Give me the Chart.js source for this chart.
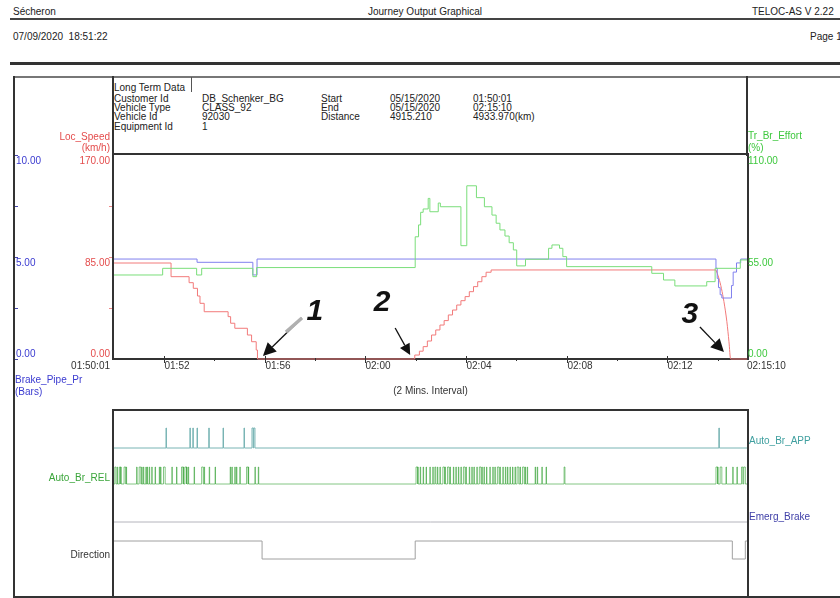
<!DOCTYPE html>
<html>
<head>
<meta charset="utf-8">
<script src="https://cdn.jsdelivr.net/npm/chart.js@4"></script>
<style>
  body { margin: 0; background: #fff; }
  #page { position: relative; width: 840px; height: 598px; overflow: hidden;
          font-family: "Liberation Sans", Arial, sans-serif; font-size: 10px; color: #222; }
  .t { position: absolute; white-space: nowrap; line-height: 12px; }
  .info { font-size: 10px; }
  .ln { position: absolute; }
  canvas { position: absolute; left: 0; top: 0; }
</style>
</head>
<body>
<div id="page">
  <div class="t" style="left:13px;top:6px">Sécheron</div>
  <div class="t" style="left:368px;top:6px">Journey Output Graphical</div>
  <div class="t" style="left:752px;top:6px">TELOC-AS V 2.22</div>
  <div class="ln" style="left:10px;top:18px;width:830px;height:2px;background:#444"></div>
  <div class="t" style="left:13px;top:31px">07/09/2020&nbsp;&nbsp;18:51:22</div>
  <div class="t" style="left:810px;top:31px">Page 1</div>
  <div class="ln" style="left:10px;top:62px;width:830px;height:3px;background:#333"></div>

  <!-- outer frame -->
  <div class="ln" style="left:14px;top:76px;width:826px;height:2px;background:#777"></div>
  <div class="ln" style="left:13px;top:76px;width:2px;height:522px;background:#333"></div>
  <div class="ln" style="left:13px;top:596px;width:827px;height:2px;background:#333"></div>
  <div class="ln" style="left:112px;top:76px;width:2px;height:80px;background:#333"></div>
  <div class="ln" style="left:746px;top:76px;width:2px;height:80px;background:#333"></div>
  <div class="ln" style="left:191px;top:77px;width:1px;height:15px;background:#555"></div>

  <!-- info block -->
  <div class="t info" style="left:114px;top:82px">Long Term Data</div>
  <div class="t info" style="left:114px;top:93px">Customer Id</div>
  <div class="t info" style="left:114px;top:102px">Vehicle Type</div>
  <div class="t info" style="left:114px;top:111px">Vehicle Id</div>
  <div class="t info" style="left:114px;top:121px">Equipment Id</div>
  <div class="t info" style="left:202px;top:93px">DB_Schenker_BG</div>
  <div class="t info" style="left:202px;top:102px">CLASS_92</div>
  <div class="t info" style="left:202px;top:111px">92030</div>
  <div class="t info" style="left:202px;top:121px">1</div>
  <div class="t info" style="left:321px;top:93px">Start</div>
  <div class="t info" style="left:321px;top:102px">End</div>
  <div class="t info" style="left:321px;top:111px">Distance</div>
  <div class="t info" style="left:390px;top:93px">05/15/2020</div>
  <div class="t info" style="left:390px;top:102px">05/15/2020</div>
  <div class="t info" style="left:390px;top:111px">4915.210</div>
  <div class="t info" style="left:473px;top:93px">01:50:01</div>
  <div class="t info" style="left:473px;top:102px">02:15:10</div>
  <div class="t info" style="left:473px;top:111px">4933.970(km)</div>

  <canvas id="main" width="840" height="598"></canvas>
  <canvas id="digital" width="840" height="598"></canvas>
</div>
<script>
// time in seconds since 01:50:01
const tEnd = 1509;

// Loc_Speed (km/h), value changes at each time
const speedTime = [0, 136, 179, 189, 199, 205, 215, 272, 278, 288, 318, 328, 339, 342,
  717, 728, 737, 747, 757, 767, 777, 787, 797, 807, 817, 827, 837, 847, 857, 867, 877, 887, 899, 1435];
const speedKmh = [80, 68.6, 63.6, 58.9, 52.5, 46.4, 39.4, 35.3, 29.8, 25.6, 20, 14.4, 7.5, 0,
  3.3, 6.5, 10.3, 15, 20, 24.2, 28.3, 32, 36.7, 40.8, 45, 48.6, 52, 56.1, 60.3, 64.4, 68.6, 72.3, 74.2, 74.2];
// final braking to standstill
const brakeTime = [1435, 1442, 1448, 1454, 1461, 1466, 1470, tEnd];
const brakeKmh = [74.2, 67.3, 58.9, 47.8, 31.1, 14.4, 0, 0];

// Tr_Br_Effort (%)
const effortTime = [0, 116, 197, 209, 331, 340, 718, 726, 731, 737, 749, 753, 773, 778, 827, 841, 864,
  883, 901, 911, 920, 932, 942, 952, 960, 981, 1036, 1044, 1062, 1070, 1079, 1282, 1310, 1337, 1413, 1433, 1493, tEnd];
const effortPct = [45.3, 48.9, 45.3, 48.9, 44.4, 49.3, 65.9, 72.3, 79.1, 80.9, 86.6, 79.4, 84.1, 82.1, 61.1, 93.4, 87.0,
  82.1, 77.6, 73.2, 69.6, 66.3, 62.7, 58.8, 50.2, 53.8, 59.7, 61.5, 59.7, 55.2, 49.8, 46.2, 42.6, 39.4, 41.7, 48.9, 53.4, 53.4];

// Brake_Pipe_Pr (bar)
const bpTime = [0, 198, 331, 341, 1435, 1438, 1441, 1445, 1449, 1472, 1476, 1484, 1494, tEnd];
const bpBar = [4.90, 4.74, 4.12, 4.90, 4.45, 3.95, 3.5, 3.15, 2.99, 3.6, 4.26, 4.71, 4.90, 4.90];

// digital signals
const appTime = [124, 181, 188, 198, 226, 260, 310, 329, 333, 1442];
const appDur = [1, 1, 1, 1, 1, 1, 1, 3, 3, 1];
const relTime = [2, 8, 13, 16, 24, 29, 54, 60, 66, 70, 76, 79, 84, 90, 98, 108, 111, 118, 138, 149, 161, 165, 169, 173, 177,
  191, 209, 215, 227, 241, 277, 281, 288, 292, 300, 316, 320, 336, 344,
  720, 724, 730, 737, 744, 753, 760, 765, 771, 777, 784, 789, 795, 801, 809, 815, 821, 827, 833, 839, 847, 853, 858,
  865, 871, 877, 882, 888, 896, 903, 908, 914, 920, 927, 933, 938, 944, 950, 956, 961, 968, 974, 980, 985,
  1004, 1009, 1020, 1030, 1073, 1435, 1439, 1445, 1459, 1475, 1485, 1496, 1501];
const relDur = [3, 1, 3, 1, 4, 1, 1, 4, 1, 1, 1, 1, 1, 1, 1, 1, 1, 4, 1, 1, 4, 1, 4, 1, 1,
  1, 4, 1, 1, 1, 1, 1, 1, 1, 1, 4, 1, 1, 1,
  4, 1, 1, 1, 1, 1, 1, 2, 1, 1, 4, 1, 4, 1, 1, 1, 1, 1, 4, 1, 1, 1, 1,
  1, 4, 1, 1, 1, 1, 1, 1, 4, 1, 1, 1, 1, 1, 1, 1, 4, 1, 4, 1, 1,
  1, 1, 1, 1, 2, 4, 1, 4, 1, 1, 1, 3, 4];
const emergTime = [0, tEnd];
const emergState = [0, 0];
const dirTime = [0, 353, 718, 1474, 1505];
const dirState = [1, 0, 1, 0, 1];

// axis ticks
const speedTicks = [0, 85, 170];
const bpTicks = [0, 5, 10];
const effortTicks = [0, 55, 110];
const tickTimes = [119, 239, 359, 479, 599, 719, 839, 959, 1079, 1199, 1319, 1439];
const tickLabels = ['01:52', '', '01:56', '', '02:00', '', '02:04', '', '02:08', '', '02:12', ''];
const startLabel = '01:50:01';
const endLabel = '02:15:10';

// annotation marks on the speed curve
const markNames = ['1', '2', '3'];
const markTime = [355, 706, 1454];
const markSpeed = [2.5, 3.3, 5.8];

const FONT = "'Liberation Sans', Arial, sans-serif";
const pts = (xs, ys) => xs.map((x, i) => ({ x: x, y: ys[i] }));

function drawArrow(ctx, x0, y0, x1, y1, len, half) {
  const ang = Math.atan2(y1 - y0, x1 - x0);
  const bx = x1 - len * Math.cos(ang), by = y1 - len * Math.sin(ang);
  ctx.beginPath();
  ctx.moveTo(x0, y0);
  ctx.lineTo(bx, by);
  ctx.stroke();
  ctx.beginPath();
  ctx.moveTo(x1, y1);
  ctx.lineTo(bx + half * Math.sin(ang), by - half * Math.cos(ang));
  ctx.lineTo(bx - half * Math.sin(ang), by + half * Math.cos(ang));
  ctx.closePath();
  ctx.fill();
}

const mainDecor = {
  id: 'mainDecor',
  beforeDatasetsDraw(chart) {
    const { ctx, chartArea: a } = chart;
    ctx.save();
    ctx.strokeStyle = '#333';
    ctx.lineWidth = 2;
    ctx.strokeRect(a.left - 1, a.top - 1, a.right - a.left + 2, a.bottom - a.top + 1);
    ctx.restore();
  },
  afterDatasetsDraw(chart) {
    const { ctx, chartArea: a, scales } = chart;
    ctx.save();
    ctx.font = '10px ' + FONT;

    function yLabels(scale, ticks, x, align, color) {
      ctx.fillStyle = color;
      ctx.textAlign = align;
      ticks.forEach(v => {
        const y = scale.getPixelForValue(v);
        const atMin = v === scale.min;
        ctx.textBaseline = atMin ? 'bottom' : 'top';
        ctx.fillText(v.toFixed(2), x, atMin ? y : y + 1);
      });
    }
    yLabels(scales.yBp, bpTicks, 16, 'left', '#3a3ad0');
    yLabels(scales.ySpeed, speedTicks, a.left - 4, 'right', '#e44c4c');
    yLabels(scales.yEffort, effortTicks, a.right + 1, 'left', '#3ec83e');

    // small y tick marks
    ctx.lineWidth = 1;
    ctx.strokeStyle = '#44a';
    for (let v = 0; v <= 10; v += 2.5) {
      const y = Math.round(scales.yBp.getPixelForValue(v)) + 0.5;
      ctx.beginPath(); ctx.moveTo(15, y); ctx.lineTo(18, y); ctx.stroke();
    }
    ctx.strokeStyle = '#e88';
    [42.5, 85, 127.5].forEach(v => {
      const y = Math.round(scales.ySpeed.getPixelForValue(v)) + 0.5;
      ctx.beginPath(); ctx.moveTo(a.left - 5, y); ctx.lineTo(a.left - 2, y); ctx.stroke();
    });

    // axis titles
    ctx.textBaseline = 'middle';
    ctx.fillStyle = '#e44c4c'; ctx.textAlign = 'right';
    ctx.fillText('Loc_Speed', a.left - 4, 137);
    ctx.fillText('(km/h)', a.left - 4, 148);
    ctx.fillStyle = '#3ec83e'; ctx.textAlign = 'left';
    ctx.fillText('Tr_Br_Effort', a.right + 1, 136);
    ctx.fillText('(%)', a.right + 1, 148);
    ctx.fillStyle = '#3a3ad0';
    ctx.fillText('Brake_Pipe_Pr', 15, a.bottom + 21);
    ctx.fillText('(Bars)', 15, a.bottom + 33);

    // time axis
    ctx.strokeStyle = '#333'; ctx.fillStyle = '#333';
    ctx.textBaseline = 'top'; ctx.textAlign = 'left';
    tickTimes.forEach((t, i) => {
      const x = Math.round(scales.x.getPixelForValue(t)) + 0.5;
      const major = tickLabels[i] !== '';
      ctx.beginPath();
      ctx.moveTo(x, a.bottom - (major ? 3 : 1));
      ctx.lineTo(x, a.bottom + (major ? 4 : 2));
      ctx.stroke();
      if (major) ctx.fillText(tickLabels[i], x, a.bottom + 2);
    });
    ctx.textAlign = 'right';
    ctx.fillText(startLabel, a.left - 4, a.bottom + 2);
    ctx.textAlign = 'left';
    ctx.fillText(endLabel, a.right, a.bottom + 2);
    ctx.textAlign = 'center'; ctx.textBaseline = 'middle';
    ctx.fillText('(2 Mins. Interval)', (a.left + a.right) / 2, a.bottom + 32);

    // numbered arrows
    const tail = [[39, -38], [-15, -27], [-24, -25]];
    const lab = [[52, -44], [-28, -52], [-34, -37]];
    const head = [[13, 6.5], [11, 5.5], [13, 6.5]];
    ctx.fillStyle = '#111'; ctx.strokeStyle = '#111';
    markNames.forEach((n, i) => {
      const x1 = scales.x.getPixelForValue(markTime[i]);
      const y1 = scales.ySpeed.getPixelForValue(markSpeed[i]);
      const x0 = x1 + tail[i][0], y0 = y1 + tail[i][1];
      ctx.lineWidth = 1.3;
      drawArrow(ctx, x0, y0, x1, y1, head[i][0], head[i][1]);
      if (i === 0) {
        ctx.strokeStyle = '#b0b0b0'; ctx.lineWidth = 3.5;
        ctx.beginPath(); ctx.moveTo(x0, y0); ctx.lineTo(x0 - 16, y0 + 14); ctx.stroke();
        ctx.strokeStyle = '#111';
      }
      ctx.font = 'bold italic 30px ' + FONT;
      ctx.textAlign = 'center'; ctx.textBaseline = 'middle';
      ctx.fillText(n, x1 + lab[i][0], y1 + lab[i][1]);
    });
    ctx.restore();
  }
};

new Chart(document.getElementById('main'), {
  type: 'line',
  data: {
    datasets: [
      { label: 'Tr_Br_Effort', data: pts(effortTime, effortPct), yAxisID: 'yEffort',
        borderColor: '#7ade7a', stepped: true },
      { label: 'Brake_Pipe_Pr', data: pts(bpTime, bpBar), yAxisID: 'yBp',
        borderColor: '#8080ee', stepped: true },
      { label: 'Loc_Speed', data: pts(speedTime, speedKmh), yAxisID: 'ySpeed',
        borderColor: '#f27a7a', stepped: true, clip: 3 },
      { label: 'Loc_Speed braking', data: pts(brakeTime, brakeKmh), yAxisID: 'ySpeed',
        borderColor: '#f27a7a', cubicInterpolationMode: 'monotone', clip: 3 }
    ]
  },
  options: {
    responsive: false,
    animation: false,
    layout: { padding: { left: 114, right: 93, top: 155, bottom: 239 } },
    elements: { point: { radius: 0 }, line: { borderWidth: 1 } },
    plugins: { legend: { display: false }, tooltip: { enabled: false } },
    scales: {
      x: { type: 'linear', min: 0, max: tEnd, display: false },
      ySpeed: { min: 0, max: 170, display: false },
      yBp: { min: 0, max: 10, display: false },
      yEffort: { min: 0, max: 110, display: false }
    }
  },
  plugins: [mainDecor]
});

// lower panel: lane positions measured from the panel top
const lanes = {
  app: { base: 38, high: 18 },
  rel: { base: 74, high: 57 },
  emerg: { base: 112, high: 100 },
  dir: { base: 149, high: 131 }
};

function pulseSeries(times, durs, lane) {
  const out = [{ x: 0, y: lane.base }];
  times.forEach((t, i) => {
    out.push({ x: t, y: lane.high });
    out.push({ x: t + durs[i], y: lane.base });
  });
  out.push({ x: tEnd, y: lane.base });
  return out;
}
function stateSeries(times, states, lane) {
  const out = times.map((t, i) => ({ x: t, y: states[i] ? lane.high : lane.base }));
  out.push({ x: tEnd, y: out[out.length - 1].y });
  return out;
}

const digitalDecor = {
  id: 'digitalDecor',
  afterDatasetsDraw(chart) {
    const { ctx, chartArea: a, scales } = chart;
    ctx.save();
    ctx.strokeStyle = '#333';
    ctx.lineWidth = 2;
    ctx.strokeRect(a.left - 1, a.top, a.right - a.left + 2, a.bottom - a.top);
    ctx.font = '10px ' + FONT;
    ctx.textBaseline = 'middle';
    const y = v => scales.lane.getPixelForValue(v);
    ctx.textAlign = 'left';
    ctx.fillStyle = '#3f9f9f';
    ctx.fillText('Auto_Br_APP', a.right + 2, y(lanes.app.base) - 7);
    ctx.fillStyle = '#4040a8';
    ctx.fillText('Emerg_Brake', a.right + 2, y(lanes.emerg.base) - 5);
    ctx.textAlign = 'right';
    ctx.fillStyle = '#3aa53a';
    ctx.fillText('Auto_Br_REL', a.left - 4, y(lanes.rel.base) - 6);
    ctx.fillStyle = '#333';
    ctx.fillText('Direction', a.left - 4, y(lanes.dir.base) - 4);
    ctx.restore();
  }
};

new Chart(document.getElementById('digital'), {
  type: 'line',
  data: {
    datasets: [
      { label: 'Auto_Br_APP', data: pulseSeries(appTime, appDur, lanes.app), yAxisID: 'lane',
        borderColor: '#78b4b4', stepped: true },
      { label: 'Auto_Br_REL', data: pulseSeries(relTime, relDur, lanes.rel), yAxisID: 'lane',
        borderColor: 'rgba(50,160,50,0.6)', stepped: true },
      { label: 'Emerg_Brake', data: stateSeries(emergTime, emergState, lanes.emerg), yAxisID: 'lane',
        borderColor: '#b4b4bc', stepped: true },
      { label: 'Direction', data: stateSeries(dirTime, dirState, lanes.dir), yAxisID: 'lane',
        borderColor: '#a0a0a0', stepped: true }
    ]
  },
  options: {
    responsive: false,
    animation: false,
    layout: { padding: { left: 114, right: 93, top: 410, bottom: 1 } },
    elements: { point: { radius: 0 }, line: { borderWidth: 1 } },
    plugins: { legend: { display: false }, tooltip: { enabled: false } },
    scales: {
      x: { type: 'linear', min: 0, max: tEnd, display: false },
      lane: { axis: 'y', min: 0, max: 187, reverse: true, display: false }
    }
  },
  plugins: [digitalDecor]
});
</script>
</body>
</html>
